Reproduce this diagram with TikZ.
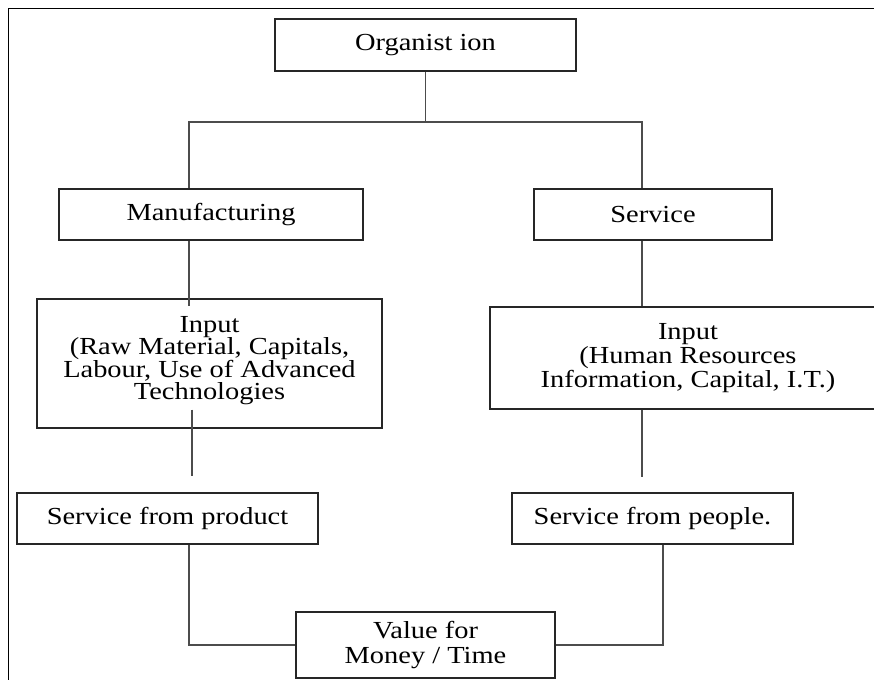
\documentclass[tikz,border=0pt]{standalone}
\usepackage{fontspec}
\setmainfont{Liberation Serif}[FakeStretch=1.16]
\usetikzlibrary{calc}

\begin{document}
\begin{tikzpicture}[
  x=1pt, y=-1pt,
  box/.style={draw=black!85, line width=1.2pt, inner sep=2pt, align=center, font=\fontsize{24.5}{22.5}\selectfont},
  link/.style={draw=black!70, line width=1.6pt}
]
\useasboundingbox (0,0) rectangle (874,679);
\clip (0,0) rectangle (874,679);
\draw[line width=1pt] (8,9) rectangle (890,700);

\node[box, minimum width=301pt, minimum height=52pt] (org) at (425.5,45) {Organist ion};
\node[box, minimum width=304pt, minimum height=51pt] (manu) at (211,214.5) {Manufacturing};
\node[box, minimum width=238pt, minimum height=51pt] (serv) at (653,214.5) {Service};
\node[box, minimum width=345pt, minimum height=129pt, text depth=11pt] (inL) at (209.5,363.5) {Input\\(Raw Material, Capitals,\\Labour, Use of Advanced\\Technologies};
\node[box, minimum width=396pt, minimum height=102pt, font=\fontsize{24.5}{24}\selectfont] (inR) at (688,358) {Input\\(Human Resources\\Information, Capital, I.T.)};
\node[box, minimum width=301pt, minimum height=51pt] (spL) at (167.5,518.5) {Service from product};
\node[box, minimum width=281pt, minimum height=51pt] (spR) at (652.5,518.5) {Service from people.};
\node[box, minimum width=259pt, minimum height=66pt, font=\fontsize{24.5}{25}\selectfont] (val) at (425.5,645) {Value for\\Money / Time};

\coordinate (hubL) at (189,122);
\coordinate (hubR) at (642,122);

\draw[link] (org.south) -- (org.south |- hubL);
\draw[link] (manu.north -| hubL) -- (hubL) -- (hubR) -- (serv.north -| hubR);

\draw[link] (manu.south -| hubL) -- ($(inL.north -| hubL)+(0,8)$);
\draw[link] (serv.south -| hubR) -- (inR.north -| hubR);

\draw[link] ($(inL.south)+(-17.5,-19)$) -- ($(spL.north)+(24.5,-16)$);
\draw[link] (inR.south -| hubR) -- ($(spR.north -| hubR)+(0,-15)$);

\draw[link] ($(spL.south)+(21.5,0)$) |- (val.west);
\draw[link] ($(spR.south)+(10.5,0)$) |- (val.east);
\end{tikzpicture}
\end{document}
